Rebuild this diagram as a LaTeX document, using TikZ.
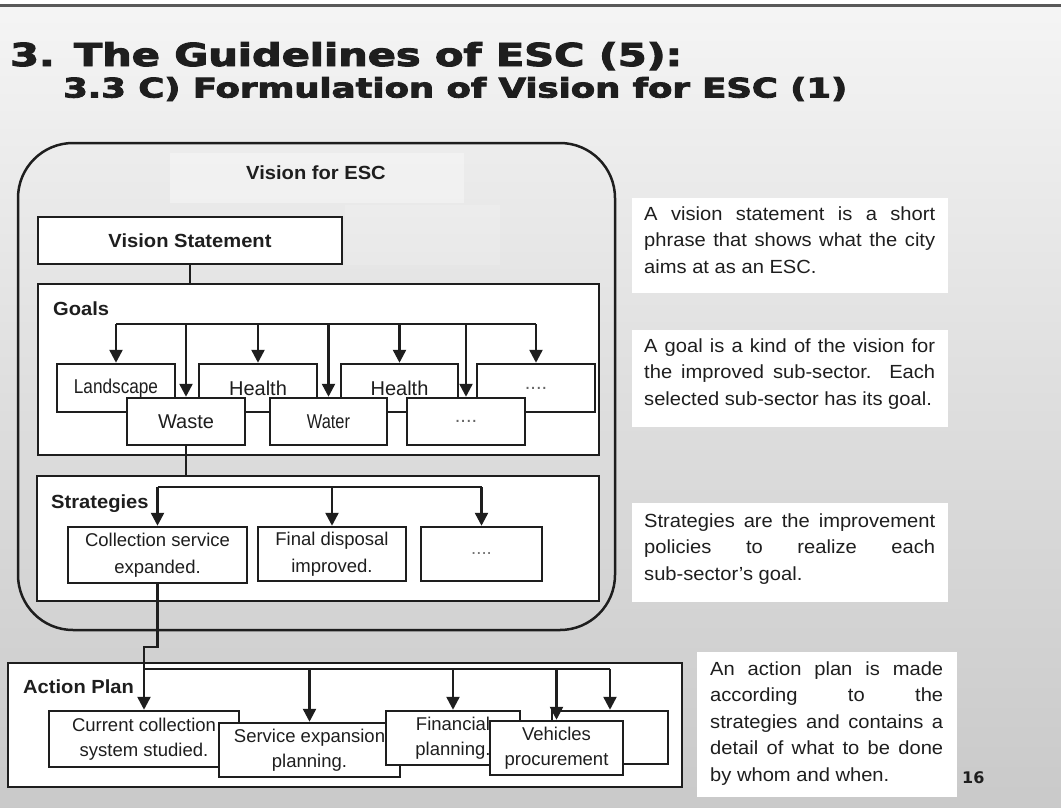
\documentclass[tikz,border=0pt]{standalone}
\usepackage{fontspec}
\usepackage{graphicx}
\setmainfont{Liberation Sans}
\newfontfamily\titlefont{DejaVu Sans}[BoldFeatures={FakeBold=3}]
\newfontfamily\pagefont{DejaVu Sans}
\newfontfamily\rfont{Liberation Sans}[FakeStretch=1.06]
\newfontfamily\lblfont{Liberation Sans}[FakeStretch=1.06]
\usetikzlibrary{arrows.meta}

\definecolor{ink}{HTML}{1E1E1E}
\definecolor{edge}{HTML}{1E1E1E}

% justified line of a fixed-width paragraph
\newcommand\jl[1]{\makebox[\linewidth][s]{#1}}
\newcommand\rsize{\rfont\fontsize{19pt}{26.5pt}\selectfont}
\newcommand\lbl{\lblfont\bfseries\fontsize{19pt}{22pt}\selectfont}
\newcommand\gtext{\fontsize{20pt}{24pt}\selectfont}
\newcommand\stext{\fontsize{18.5pt}{27pt}\selectfont}
\newcommand\atext{\fontsize{18.5pt}{25pt}\selectfont}

\begin{document}
\begin{tikzpicture}[x=1pt,y=-1pt,
  box/.style={draw=edge, fill=white, line width=2.5pt, inner sep=0pt, align=center, text=ink},
  frame/.style={draw=edge, fill=white, line width=2.5pt, inner sep=0pt},
  link/.style={draw=edge, line width=2.5pt},
  arr/.style={draw=edge, line width=2.5pt, -{Triangle[length=13pt,width=13pt]}},
  note/.style={fill=white, inner sep=0pt},
  tag/.style={anchor=base west, inner sep=0pt, font=\lbl, text=ink}
]
\useasboundingbox (0,0) rectangle (1061,807);

% slide background
\shade[top color=white!96!black, bottom color=white!79!black, middle color=white!87!black] (0,0) rectangle (1061,807);
\fill[white] (0,0) rectangle (1061,4);
\draw[line width=2.5pt, black!65] (0,5.5) -- (1061,5.5);

% headings
\node[anchor=base west, inner sep=0pt, text=ink] (title) at (10,66)
  {\resizebox{672pt}{24pt}{\titlefont\bfseries 3. The Guidelines of ESC (5):}};
\node[anchor=base west, inner sep=0pt, text=ink] (subtitle) at (63,97.5)
  {\resizebox{784pt}{20.5pt}{\titlefont\bfseries 3.3 C) Formulation of Vision for ESC (1)}};

% vision block
\node[draw=edge, line width=2.5pt, rounded corners=55pt, minimum width=597pt, minimum height=487pt, inner sep=0pt] (vision) at (316.5,386.5) {};
\fill[white, opacity=0.35] (170,153) rectangle (464,203);
\fill[white, opacity=0.15] (345,205) rectangle (500,265);
\node[anchor=base, inner sep=0pt, font=\lbl, text=ink] (visiontitle) at (316,179) {Vision for ESC};

\node[box, font=\lbl, minimum width=304pt, minimum height=47pt] (vs) at (190,240.5) {Vision Statement};

% goals
\node[frame, minimum width=561pt, minimum height=171pt] (goals) at (318.5,369.5) {};
\node[tag] (goalslbl) at (53,315) {Goals};
\node[box, font=\gtext, minimum width=118pt, minimum height=48pt] (land) at (116,388) {\scalebox{0.86}[1]{Landscape}};
\node[box, font=\gtext, minimum width=118pt, minimum height=48pt] (health1) at (258,388) {Health};
\node[box, font=\gtext, minimum width=117pt, minimum height=48pt] (health2) at (399.5,388) {Health};
\node[box, font=\gtext, minimum width=118pt, minimum height=48pt] (gdots1) at (536,388) {\textcolor{black!60}{....}};
\node[box, font=\gtext, minimum width=118pt, minimum height=47pt] (waste) at (186,421.5) {Waste};
\node[box, font=\gtext, minimum width=117pt, minimum height=47pt] (water) at (328.5,421.5) {\scalebox{0.82}[1]{Water}};
\node[box, font=\gtext, minimum width=118pt, minimum height=47pt] (gdots2) at (466,421.5) {\textcolor{black!60}{....}};

\coordinate (gbus) at (0,324);
\draw[link] (vs.south) -- (vs.south |- goals.north);
\draw[link] (land.north |- gbus) -- (gdots1.north |- gbus);
\foreach \n in {land,waste,health1,water,health2,gdots2,gdots1}
  \draw[arr] (\n.north |- gbus) -- (\n.north);

% strategies
\node[frame, minimum width=562pt, minimum height=125pt] (strat) at (318,538.5) {};
\node[tag] (stratlbl) at (51,508) {Strategies};
\node[box, font=\stext, minimum width=179pt, minimum height=56pt] (coll) at (157.5,555) {Collection service\\expanded.};
\node[box, font=\stext, minimum width=148pt, minimum height=54pt] (fdisp) at (332,554) {Final disposal\\improved.};
\node[box, font=\stext, minimum width=121pt, minimum height=54pt] (sdots) at (481.5,554) {\textcolor{black!55}{....}};

\coordinate (sbus) at (0,487);
\draw[link] (waste.south) -- (waste.south |- strat.north);
\draw[link] (coll.north |- sbus) -- (sdots.north |- sbus);
\foreach \n in {coll,fdisp,sdots}
  \draw[arr] (\n.north |- sbus) -- (\n.north);

% action plan
\node[frame, minimum width=674pt, minimum height=124pt] (action) at (345,725) {};
\node[tag] (actionlbl) at (23,693) {Action Plan};
\node[box, font=\atext, minimum width=190pt, minimum height=56pt] (cur) at (144,739) {Current collection\\system studied.};
\node[box, font=\atext, minimum width=181pt, minimum height=54pt] (serv) at (309.5,750) {Service expansion\\planning.};
\node[box, font=\atext, minimum width=134pt, minimum height=54pt] (fin) at (453,738) {Financial\\planning.};
\node[box, minimum width=116pt, minimum height=53pt] (blank) at (610,737.5) {};
\node[box, font=\atext, minimum width=133pt, minimum height=54pt] (veh) at (556.5,748) {Vehicles\\procurement};

\coordinate (jog) at (0,647);
\coordinate (abus) at (0,669);
\draw[arr] (coll.south) -- (coll.south |- jog) -- (cur.north |- jog) -- (cur.north);
\draw[link] (cur.north |- abus) -- (blank.north |- abus);
\foreach \n in {serv,fin,veh,blank}
  \draw[arr] (\n.north |- abus) -- (\n.north);

% explanatory notes
\node[note, minimum width=316pt, minimum height=95pt] (n1) at (790,245.5) {};
\node[anchor=base west, inner sep=0pt, text=ink] (n1t) at (644,220)
  {\parbox[t]{291pt}{\rsize\jl{A vision statement is a short}\\\jl{phrase that shows what the city}\\aims at as an ESC.}};

\node[note, minimum width=316pt, minimum height=97pt] (n2) at (790,378.5) {};
\node[anchor=base west, inner sep=0pt, text=ink] (n2t) at (644,352)
  {\parbox[t]{291pt}{\rsize\jl{A goal is a kind of the vision for}\\\jl{the improved sub-sector. Each}\\selected sub-sector has its goal.}};

\node[note, minimum width=316pt, minimum height=99pt] (n3) at (790,552.5) {};
\node[anchor=base west, inner sep=0pt, text=ink] (n3t) at (644,527)
  {\parbox[t]{291pt}{\rsize\jl{Strategies are the improvement}\\\jl{policies to realize each}\\sub-sector’s goal.}};

\node[note, minimum width=260pt, minimum height=145pt] (n4) at (827,724.5) {};
\node[anchor=base west, inner sep=0pt, text=ink] (n4t) at (710,675)
  {\parbox[t]{233pt}{\rsize\jl{An action plan is made}\\\jl{according to the}\\\jl{strategies and contains a}\\\jl{detail of what to be done}\\by whom and when.}};

% page number
\node[anchor=base west, inner sep=0pt, text=ink, font=\pagefont\bfseries\fontsize{16pt}{16pt}\selectfont] (page) at (962,783) {16};
\end{tikzpicture}
\end{document}
